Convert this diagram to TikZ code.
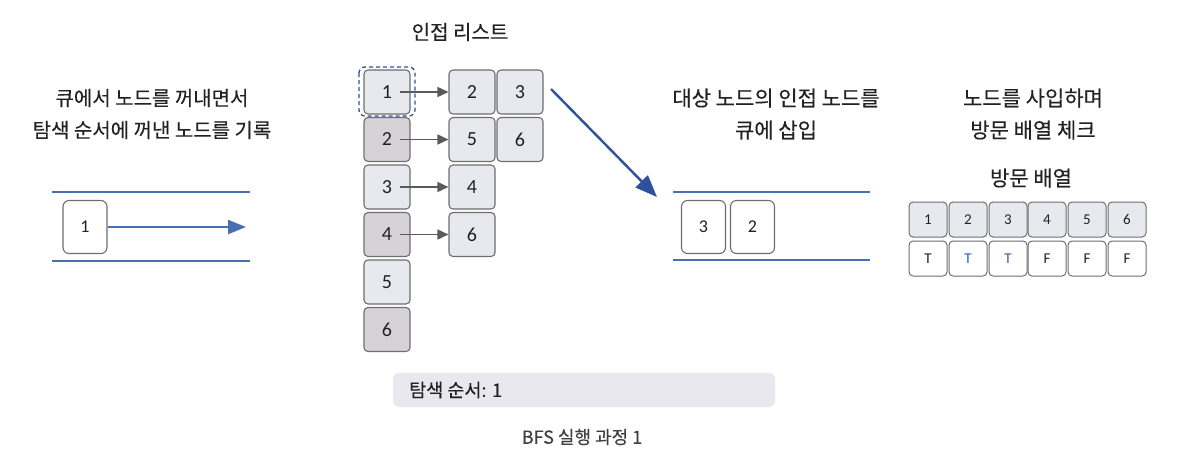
\documentclass[tikz,border=0pt]{standalone}
\usepackage{fontspec}
\setmainfont{Noto Sans CJK KR}[FakeBold=0.3]
\newfontfamily\numfont{Carlito}
\usetikzlibrary{arrows.meta}
\definecolor{boxlight}{HTML}{E8E9EF}
\definecolor{boxdark}{HTML}{D6D3D7}
\definecolor{boxedge}{HTML}{6E6E70}
\definecolor{qblue}{HTML}{4A6EB2}
\definecolor{darrow}{HTML}{2F509C}
\definecolor{garrow}{HTML}{5A5A5C}
\definecolor{barfill}{HTML}{E8E8EE}
\definecolor{tblue}{HTML}{2F5FA8}
\definecolor{txt}{HTML}{222222}
\tikzset{
  cell/.style={draw=boxedge, line width=1.1pt, rounded corners=4pt, minimum width=46pt, minimum height=44pt, inner sep=0pt, text=txt, font=\numfont\fontsize{20}{20}\selectfont},
  lcell/.style={cell, fill=boxlight},
  dcell/.style={cell, fill=boxdark},
  qcell/.style={draw=boxedge, line width=1.1pt, rounded corners=6pt, fill=white, minimum width=44pt, minimum height=53pt, inner sep=0pt, text=txt, font=\numfont\fontsize{18}{18}\selectfont},
  vcell/.style={draw=boxedge, line width=1pt, rounded corners=4pt, minimum width=38pt, minimum height=35pt, inner sep=0pt, text=txt, font=\numfont\fontsize{15}{15}\selectfont},
  vtop/.style={vcell, fill=boxlight},
  vbot/.style={vcell, fill=white},
  head/.style={font=\fontsize{20}{20}\selectfont, align=center, text=txt},
  headr/.style={font=\fontsize{21}{21}\selectfont, align=center, text=txt},
  qline/.style={draw=qblue, line width=1.4pt},
  adjarrow/.style={draw=garrow, line width=1.6pt, -{Triangle[length=11pt,width=10pt]}},
}
\begin{document}
\begin{tikzpicture}[x=1pt,y=-1pt]
\useasboundingbox (0,0) rectangle (1196,467);

% titles
\node[head] (t1) at (460,32) {인접 리스트};
\node[head] (t2) at (152,98) {큐에서 노드를 꺼내면서};
\node[head] (t3) at (152,130) {탐색 순서에 꺼낸 노드를 기록};
\node[headr] (t4) at (776,98) {대상 노드의 인접 노드를};
\node[headr] (t5) at (776,130) {큐에 삽입};
\node[headr] (t6) at (1033,98) {노드를 사입하며};
\node[headr] (t7) at (1033,130) {방문 배열 체크};
\node[headr] (t8) at (1031,178) {방문 배열};

% left queue
\coordinate (lq1) at (52,192);
\coordinate (lq2) at (250,192);
\coordinate (lq3) at (52,261);
\coordinate (lq4) at (250,261);
\draw[qline] (lq1) -- (lq2);
\draw[qline] (lq3) -- (lq4);
\node[qcell] (q1) at (85,227) {1};
\coordinate (qend) at (246,227);
\draw[draw=qblue, line width=2.2pt, -{Triangle[length=18pt,width=14pt]}] (q1.east) -- (qend);

% adjacency list
\node[lcell] (a1) at (387,92) {1};
\node[dcell] (a2) at (387,139.5) {2};
\node[lcell] (a3) at (387,187) {3};
\node[dcell] (a4) at (387,234.5) {4};
\node[lcell] (a5) at (387,282) {5};
\node[dcell] (a6) at (387,329.5) {6};
\draw[draw=darrow, line width=1.3pt, dash pattern=on 4pt off 3pt, rounded corners=6pt] (359,67) rectangle (415,116);

\node[lcell] (b12) at (472,92) {2};
\node[lcell] (b13) at (520,92) {3};
\node[lcell] (b25) at (472,139.5) {5};
\node[lcell] (b26) at (520,139.5) {6};
\node[lcell] (b34) at (472,187) {4};
\node[lcell] (b46) at (472,234.5) {6};

\coordinate (s1) at (400,92);
\coordinate (s2) at (400,139.5);
\coordinate (s3) at (400,187);
\coordinate (s4) at (400,234.5);
\draw[adjarrow] (s1) -- (b12.west);
\draw[adjarrow] (s2) -- (b25.west);
\draw[adjarrow] (s3) -- (b34.west);
\draw[adjarrow] (s4) -- (b46.west);

% big blue arrow
\coordinate (ba1) at (551,89);
\coordinate (ba2) at (657,197);
\draw[draw=darrow, line width=2.4pt, -{Triangle[length=22pt,width=17pt]}] (ba1) -- (ba2);

% right queue
\coordinate (rq1) at (673,192);
\coordinate (rq2) at (870,192);
\coordinate (rq3) at (673,260);
\coordinate (rq4) at (870,260);
\draw[qline] (rq1) -- (rq2);
\draw[qline] (rq3) -- (rq4);
\node[qcell] (r3) at (703.5,227) {3};
\node[qcell] (r2) at (752.5,227) {2};

% visit array
\foreach \i/\x in {1/928,2/968,3/1008,4/1047,5/1087,6/1127}{
  \node[vtop] (v\i) at (\x,219.5) {\i};
}
\node[vbot] (w1) at (928,258.5) {T};
\node[vbot, text=tblue] (w2) at (968,258.5) {T};
\node[vbot, text=tblue] (w3) at (1008,258.5) {T};
\node[vbot] (w4) at (1047,258.5) {F};
\node[vbot] (w5) at (1087,258.5) {F};
\node[vbot] (w6) at (1127,258.5) {F};

% bottom bar
\node[fill=barfill, rounded corners=6pt, minimum width=382pt, minimum height=34pt, inner sep=0pt] (bar) at (584,390) {};
\node[anchor=west, font=\fontsize{18.5}{18.5}\selectfont, text=txt, inner sep=0pt] (order) at (409,390) {탐색 순서: 1};

% caption
\node[font=\fontsize{18}{18}\selectfont, text=black!75] (cap) at (582,437) {BFS 실행 과정 1};
\end{tikzpicture}
\end{document}
